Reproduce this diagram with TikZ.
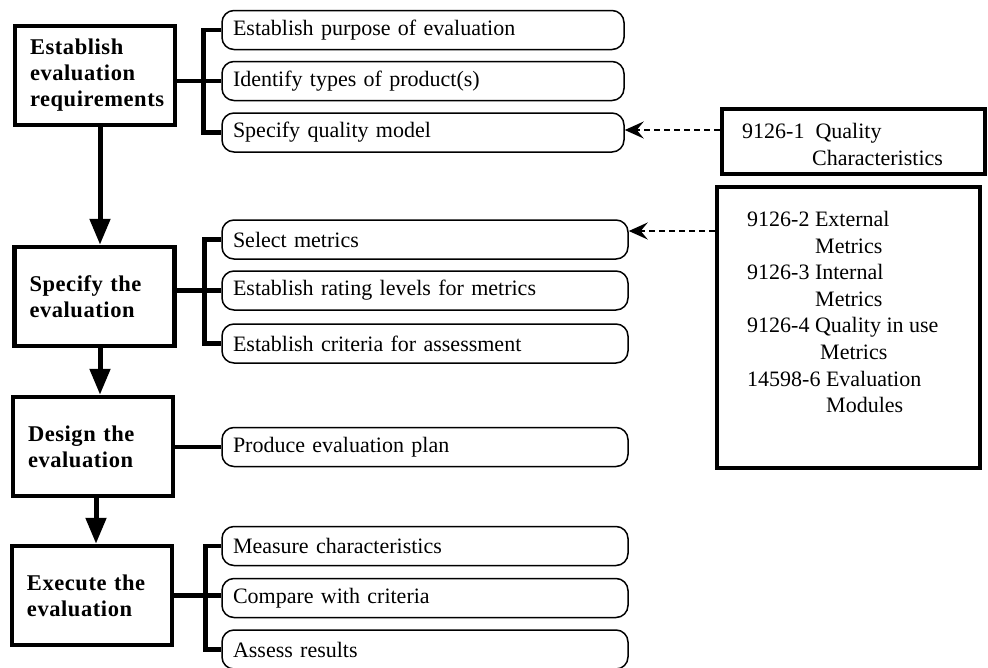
\documentclass[tikz,border=0pt]{standalone}
\usepackage{fontspec}
\setmainfont{Liberation Serif}
\usetikzlibrary{arrows.meta}
\newcommand{\stagefont}{\fontsize{22.5}{26}\selectfont\bfseries
  \addfontfeature{LetterSpace=2.5}\hyphenpenalty=10000\relax\hbadness=10000\relax}
\begin{document}
\begin{tikzpicture}[x=1pt,y=-1pt,
  every node/.style={font=\fontsize{22}{26.6}\selectfont},
  stage/.style={draw, line width=4.5pt, text width=130pt, inner xsep=15pt,
    minimum height=99pt, align=left, font=\stagefont},
  task/.style={draw, line width=1.5pt, rounded corners=12pt, minimum height=39pt,
    text width=384pt, inner xsep=11pt, inner ysep=0pt, align=left},
  taskshort/.style={task, text width=380pt},
  refbox/.style={draw, line width=4.5pt, inner sep=0pt},
  reftext/.style={inner sep=0pt, align=left, anchor=north west},
  flow/.style={line width=5pt, -{Triangle[width=20pt,length=26pt]}},
  bracket/.style={line width=4.5pt, line join=miter},
  feed/.style={line width=1.8pt, dash pattern=on 6pt off 4pt,
    -{Stealth[length=19pt,width=17pt,inset=7pt]}}
]
\useasboundingbox (0,0) rectangle (988,667);
\clip (0,0) rectangle (988,667);

% process stages
\node[stage] (b1) at (95,75.5)  {Establish\\ evaluation\\ requirements};
\node[stage] (b2) at (94.5,296.5) {Specify the\\ evaluation};
\node[stage] (b3) at (93,446.5) {Design the\\ evaluation};
\node[stage] (b4) at (92,595.5) {Execute the\\ evaluation};

% activities of each stage
\node[taskshort] (r1) at (423,30)    {Establish purpose of evaluation};
\node[taskshort] (r2) at (423,81)    {Identify types of product(s)};
\node[taskshort] (r3) at (423,132.5) {Specify quality model};
\node[task] (r4) at (425,239.5) {Select metrics};
\node[task] (r5) at (425,290.5) {Establish rating levels for metrics};
\node[task] (r6) at (425,343.5) {Establish criteria for assessment};
\node[task] (r7) at (425,447)   {Produce evaluation plan};
\node[task] (r8) at (425,546)   {Measure characteristics};
\node[task] (r9) at (425,598)   {Compare with criteria};
\node[task] (r10) at (425,649.5) {Assess results};

% reference documents
\node[refbox, minimum width=263pt, minimum height=65pt] (q1) at (853.5,141.5) {};
\node[reftext] (q1t) at (742,123) {9126-1\ \ Quality\\\hspace*{70pt}Characteristics};
\node[refbox, minimum width=263pt, minimum height=281pt] (m1) at (848.5,327.5) {};
\node[reftext] (m1t) at (747,211) {9126-2 External\\\hspace*{68pt}Metrics\\
  9126-3 Internal\\\hspace*{68pt}Metrics\\
  9126-4 Quality in use\\\hspace*{73pt}Metrics\\
  14598-6 Evaluation\\\hspace*{79pt}Modules};

% flow between stages
\draw[flow] ([xshift=5pt]b1.south) -- ([xshift=5pt]b1.south |- b2.north);
\draw[flow] ([xshift=5.5pt]b2.south) -- ([xshift=5.5pt]b2.south |- b3.north);
\draw[flow] ([xshift=3pt]b3.south) -- ([xshift=3pt]b3.south |- b4.north);

% brackets joining stages to activities
\draw[bracket] (r1.west) -- ++(-18,0) |- (r3.west);
\draw[bracket] (r2.west) -- (r2.west -| b1.east);
\draw[bracket] (r4.west) -- ++(-17,0) |- (r6.west);
\draw[bracket] (r5.west) -- (r5.west -| b2.east);
\draw[bracket] (r7.west) -- (r7.west -| b3.east);
\draw[bracket] (r8.west) -- ++(-16,0) |- (r10.west);
\draw[bracket] (b4.east) -- (b4.east -| r9.west);

% references feeding activities
\draw[feed] (q1.west |- 0,130) -- (r3.east |- 0,130);
\draw[feed] (m1.west |- 0,231) -- (r4.east |- 0,231);
\end{tikzpicture}
\end{document}
